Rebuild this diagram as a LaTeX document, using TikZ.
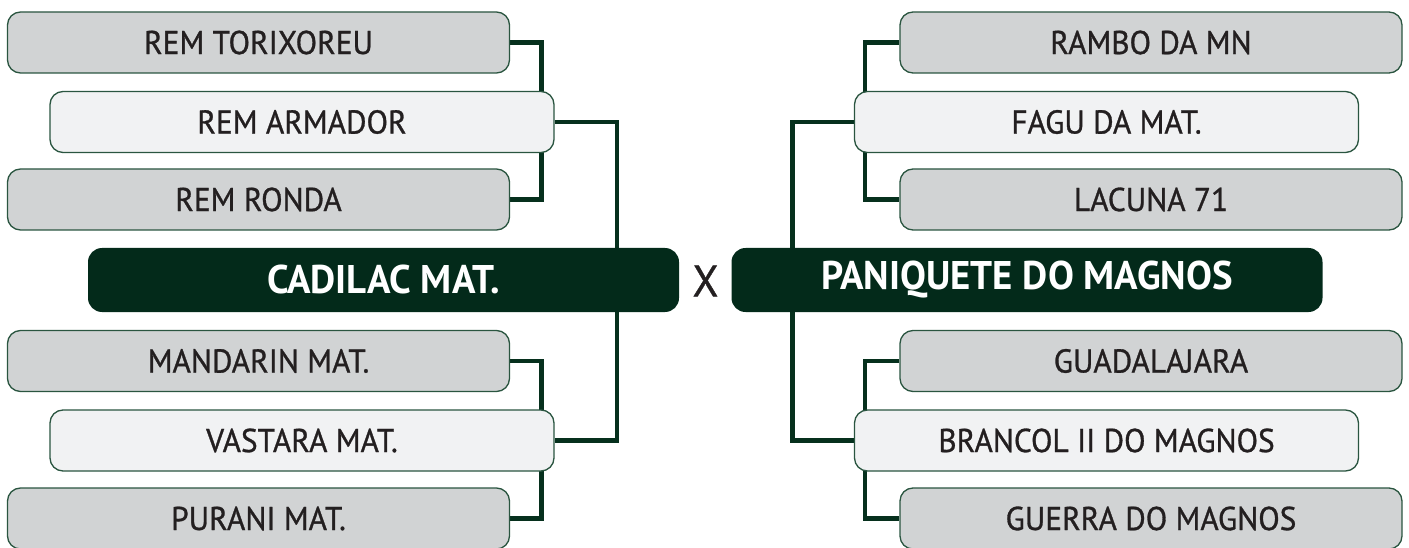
\documentclass[tikz,border=0pt]{standalone}
\usepackage{fontspec}
\setmainfont{PT Sans}
\newfontfamily\teamfont{PT Sans}[FakeStretch=0.95, FakeBold=0.9]
\newfontfamily\finfont{PT Sans Bold}[FakeStretch=0.97]
\newfontfamily\vsfont{PT Sans}[FakeStretch=0.95, FakeBold=0.8]
\usetikzlibrary{backgrounds}
\definecolor{dkgreen}{HTML}{032A1A}
\definecolor{lnGreen}{HTML}{06301D}
\definecolor{bdGreen}{HTML}{2A5540}
\definecolor{grayfill}{HTML}{D1D3D4}
\definecolor{lightfill}{HTML}{F1F2F3}
\definecolor{txt}{HTML}{231F20}
\tikzset{
  team/.style={draw=bdGreen, line width=1.3pt, rounded corners=13pt, minimum height=61pt,
    inner sep=0pt, text=txt, font=\teamfont\fontsize{33}{33}\selectfont},
  grayteam/.style={team, fill=grayfill, minimum width=502pt},
  lightteam/.style={team, fill=lightfill, minimum width=504pt},
  finalist/.style={fill=dkgreen, rounded corners=14pt, minimum height=64pt, minimum width=591pt,
    inner sep=0pt, text=white, font=\finfont\fontsize{40}{40}\selectfont},
  conn/.style={draw=lnGreen, line width=4.5pt}
}
\begin{document}
\begin{tikzpicture}[x=1pt,y=-1pt]
\useasboundingbox (0,0) rectangle (1409,548);
% left side
\node[grayteam]  (l1) at (258.5,42.5) {REM TORIXOREU};
\node[lightteam] (l2) at (302,122)    {REM ARMADOR};
\node[grayteam]  (l3) at (258.5,199.5){REM RONDA};
\node[finalist]  (f1) at (383.5,280)  {CADILAC MAT.};
\node[grayteam]  (l5) at (258.5,361)  {MANDARIN MAT.};
\node[lightteam] (l6) at (302,440.5)  {VASTARA MAT.};
\node[grayteam]  (l7) at (258.5,518.5){PURANI MAT.};
% right side
\node[grayteam]  (r1) at (1151,42.5)  {RAMBO DA MN};
\node[lightteam] (r2) at (1106.5,122) {FAGU DA MAT.};
\node[grayteam]  (r3) at (1151,199.5) {LACUNA 71};
\node[finalist]  (f2) at (1027,280)   {PANIQUETE DO MAGNOS};
\node[grayteam]  (r5) at (1151,361)   {GUADALAJARA};
\node[lightteam] (r6) at (1106.5,440.5){BRANCOL II DO MAGNOS};
\node[grayteam]  (r7) at (1151,518.5) {GUERRA DO MAGNOS};
% versus
\node[text=txt, font=\vsfont\fontsize{44}{44}\selectfont, inner sep=0pt] (vs) at (705.5,281) {X};
\begin{scope}[on background layer]
\draw[conn] (l1.east) -| ([xshift=-13pt]l2.north east) |- (l3.east);
\draw[conn] (l5.east) -| ([xshift=-13pt]l6.north east) |- (l7.east);
\draw[conn] (l2.east) -| ([xshift=-62pt]f1.north east) |- (l6.east);
\draw[conn] (r1.west) -| ([xshift=11pt]r2.north west) |- (r3.west);
\draw[conn] (r5.west) -| ([xshift=11pt]r6.north west) |- (r7.west);
\draw[conn] (r2.west) -| ([xshift=61pt]f2.north west) |- (r6.west);
\end{scope}
\end{tikzpicture}
\end{document}
